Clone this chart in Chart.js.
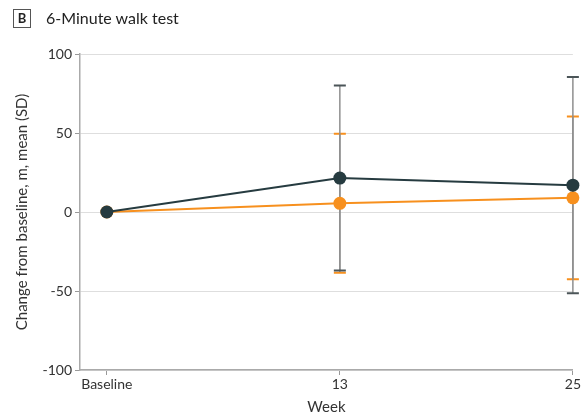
<!DOCTYPE html>
<html>
<head>
<meta charset="utf-8">
<script src="https://cdn.jsdelivr.net/npm/chart.js@4/dist/chart.umd.min.js"></script>
<style>
  body { margin: 0; background: #fff; }
  #wrap { position: relative; width: 582px; height: 420px; font-family: "Lato", "Roboto", sans-serif; }
  #badge { position: absolute; left: 13px; top: 9px; width: 16px; height: 17px; border: 1px solid #555; font-size: 13px; font-weight: bold; line-height: 17px; text-align: center; color: #222; }
  #title { position: absolute; left: 46px; top: 8px; font-size: 16px; color: #222; }
  canvas { position: absolute; left: 0; top: 0; }
</style>
</head>
<body>
<div id="wrap">
  <canvas id="chart" width="582" height="420"></canvas>
  <div id="badge">B</div>
  <div id="title">6-Minute walk test</div>
</div>
<script>
// --- DATA ---
const weekLabels = ['Baseline', '13', '25'];
const darkMean = [0, 21.5, 17];
const darkSd = [0, 58.5, 68.5];
const orangeMean = [0, 5.5, 9];
const orangeSd = [0, 44, 51.5];
const yTicks = [-100, -50, 0, 50, 100];

const DARK = '#263b40';
const ORANGE = '#f7901e';
const FONT = '"Lato", "Roboto", sans-serif';

const toPoints = (vals) => vals.map((v, i) => ({ x: i, y: v }));

// error bars drawn under the points, through the chart scales
const errorBars = {
  id: 'errorBars',
  beforeDatasetsDraw(chart) {
    const { ctx, scales } = chart;
    const sets = [[orangeMean, orangeSd, ORANGE], [darkMean, darkSd, '#4b5558']];
    ctx.save();
    sets.forEach(([means, sds, capColor]) => {
      means.forEach((m, i) => {
        if (!sds[i]) return;
        const x = scales.x.getPixelForValue(i);
        const top = scales.y.getPixelForValue(m + sds[i]);
        const bot = scales.y.getPixelForValue(m - sds[i]);
        ctx.strokeStyle = '#8f8f8f';
        ctx.lineWidth = 1.5;
        ctx.beginPath();
        ctx.moveTo(x, top);
        ctx.lineTo(x, bot);
        ctx.stroke();
        ctx.strokeStyle = capColor;
        ctx.lineWidth = 2;
        ctx.beginPath();
        ctx.moveTo(x - 6, top); ctx.lineTo(x + 6, top);
        ctx.moveTo(x - 6, bot); ctx.lineTo(x + 6, bot);
        ctx.stroke();
      });
    });
    ctx.restore();
  }
};

new Chart(document.getElementById('chart'), {
  type: 'line',
  data: {
    datasets: [
      {
        data: toPoints(darkMean),
        borderColor: DARK, backgroundColor: DARK,
        borderWidth: 2, pointRadius: 6.5, pointBorderWidth: 0, clip: false
      },
      {
        data: toPoints(orangeMean),
        borderColor: ORANGE, backgroundColor: ORANGE,
        borderWidth: 2, pointRadius: 6.5, pointBorderWidth: 0, clip: false
      }
    ]
  },
  options: {
    responsive: false,
    animation: false,
    layout: { padding: { top: 54, right: 7, left: 9, bottom: 0 } },
    plugins: { legend: { display: false }, tooltip: { enabled: false } },
    scales: {
      x: {
        type: 'linear',
        min: -0.115, max: 2,
        afterBuildTicks: (s) => { s.ticks = weekLabels.map((_, i) => ({ value: i })); },
        afterFit: (s) => { s.height = 50; },
        ticks: {
          callback: (v) => weekLabels[v],
          color: '#333', font: { family: FONT, size: 14 }, padding: 1, maxRotation: 0
        },
        grid: { drawOnChartArea: false, drawTicks: true, tickLength: 5, tickColor: '#999' },
        border: { color: '#aaa', width: 1.5 },
        title: { display: true, text: 'Week', color: '#333', font: { family: FONT, size: 15 }, padding: { top: 7 } }
      },
      y: {
        min: -100, max: 100,
        afterBuildTicks: (s) => { s.ticks = yTicks.map(v => ({ value: v })); },
        afterFit: (s) => { s.width = 71; },
        ticks: { color: '#333', font: { family: FONT, size: 14 }, padding: 3 },
        grid: { color: '#dedede', lineWidth: 1, tickLength: 5, tickColor: '#999' },
        border: { color: '#aaa', width: 1.5 },
        title: { display: true, text: 'Change from baseline, m, mean (SD)', color: '#333', font: { family: FONT, size: 15 }, padding: { bottom: 2 } }
      }
    }
  },
  plugins: [errorBars]
});
</script>
</body>
</html>
